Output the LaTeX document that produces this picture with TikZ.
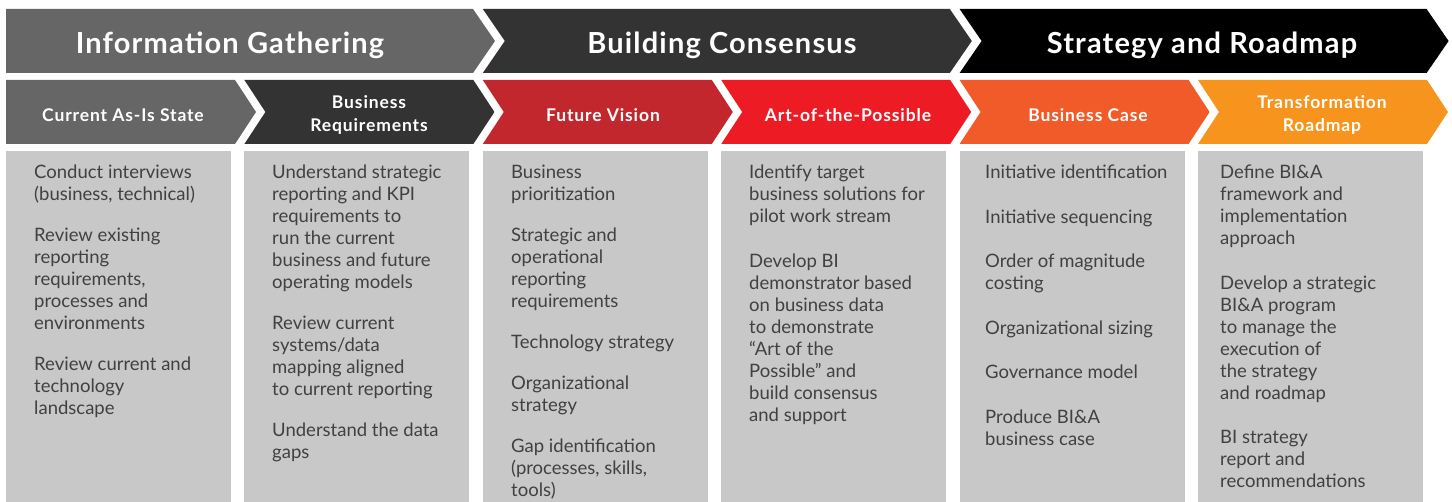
\documentclass[tikz,border=0pt]{standalone}
\usepackage{fontspec}
\setmainfont{Lato}
\newfontfamily\topfont{Lato}[LetterSpace=4]
\newfontfamily\subfont{Lato}[LetterSpace=5]
\usetikzlibrary{calc,positioning}

\definecolor{cTopGray}{HTML}{666666}
\definecolor{cTopDark}{HTML}{333333}
\definecolor{cTopBlack}{HTML}{000000}
\definecolor{cVisionRed}{HTML}{C1272D}
\definecolor{cArtRed}{HTML}{ED1C24}
\definecolor{cCaseOrange}{HTML}{F15A29}
\definecolor{cRoadOrange}{HTML}{F7941D}
\definecolor{cBoxGray}{HTML}{C8C8C8}
\definecolor{cBodyText}{HTML}{414042}

\tikzset{
  topTitle/.style={text=white, font=\topfont\fontsize{29}{32}\selectfont\bfseries, inner sep=0pt},
  subTitle/.style={text=white, font=\subfont\fontsize{17.5}{23}\selectfont\bfseries, align=center, inner sep=0pt},
  bodyText/.style={text=cBodyText, font=\fontsize{18.5}{22}\selectfont, align=left, anchor=north west, inner sep=0pt},
}

\begin{document}
\begin{tikzpicture}[x=1pt,y=-1pt]
       \useasboundingbox (0,0) rectangle (1452,502);
       %設定箭頭尖端的深度
       \pgfmathsetmacro{\ETopDepth}{22}
       \pgfmathsetmacro{\ESubDepth}{21}

       %上排三個大箭頭
       \foreach \lx/\rx/\nx/\cl/\cx/\nm/\tx in
       {6/473/0/cTopGray/230/nInfoGathering/Information Gathering,
           482.8/949.8/22/cTopDark/722/nBuildConsensus/Building Consensus,
           959.6/1426.6/22/cTopBlack/1202/nStrategyRoadmap/Strategy and Roadmap
        }
        {
            \fill[\cl] (\lx,9) -- (\rx,9) -- ++(\ETopDepth,32) -- ++(-\ETopDepth,32) -- (\lx,73) -- ++(\nx,-32) -- cycle;
            \node[topTitle] (\nm) at (\cx,45) {\tx};
        };

       %第二排六個小箭頭
       \foreach \lx/\nx/\cl/\cx/\nm/\tx in
       {6/0/cTopGray/123/nCurrentState/Current As-Is State,
           244.4/21/cTopDark/369/nBusinessReq/Business\\Requirements,
           482.8/21/cVisionRed/603/nFutureVision/Future Vision,
           721.2/21/cArtRed/848/nArtPossible/Art-of-the-Possible,
           959.6/21/cCaseOrange/1088/nBusinessCase/Business Case,
           1198/21/cRoadOrange/1322/nTransRoadmap/Transformation\\Roadmap
        }
        {
            \fill[\cl] (\lx,80) -- ++(229,0) -- ++(\ESubDepth,32) -- ++(-\ESubDepth,32) -- (\lx,144) -- ++(\nx,-32) -- cycle;
            \node[subTitle] (\nm) at (\cx,115) {\tx};
        };

       %下方灰色區塊
       \foreach \lx in {6,244.4,482.8,721.2,959.6,1198}
        {
            \fill[cBoxGray] (\lx,151) rectangle ++(225,352);
        };

       %各欄的說明文字
       \node[bodyText] (nCurrentBody) at (34,165) {Conduct interviews\\(business, technical)\\[19pt]Review existing\\reporting\\requirements,\\processes and\\environments\\[19pt]Review current and\\technology\\landscape};
       \node[bodyText] (nBusinessBody) at (272,165) {Understand strategic\\reporting and KPI\\requirements to\\run the current\\business and future\\operating models\\[19pt]Review current\\systems/data\\mapping aligned\\to current reporting\\[19pt]Understand the data\\gaps};
       \node[bodyText] (nVisionBody) at (511,165) {Business\\prioritization\\[19pt]Strategic and\\operational\\reporting\\requirements\\[19pt]Technology strategy\\[19pt]Organizational\\strategy\\[19pt]Gap identification\\(processes, skills,\\tools)};
       \node[bodyText] (nArtBody) at (749,165) {Identify target\\business solutions for\\pilot work stream\\[23pt]Develop BI\\demonstrator based\\on business data\\to demonstrate\\“Art of the\\Possible” and\\build consensus\\and support};
       \node[bodyText] (nCaseBody) at (985,165) {Initiative identification\\[22.5pt]Initiative sequencing\\[22.5pt]Order of magnitude\\costing\\[22.5pt]Organizational sizing\\[22.5pt]Governance model\\[22.5pt]Produce BI\&A\\business case};
       \node[bodyText] (nRoadmapBody) at (1220,165) {Define BI\&A\\framework and\\implementation\\approach\\[22.5pt]Develop a strategic\\BI\&A program\\to manage the\\execution of\\the strategy\\and roadmap\\[22.5pt]BI strategy\\report and\\recommendations};
        %
\end{tikzpicture}
\end{document}
